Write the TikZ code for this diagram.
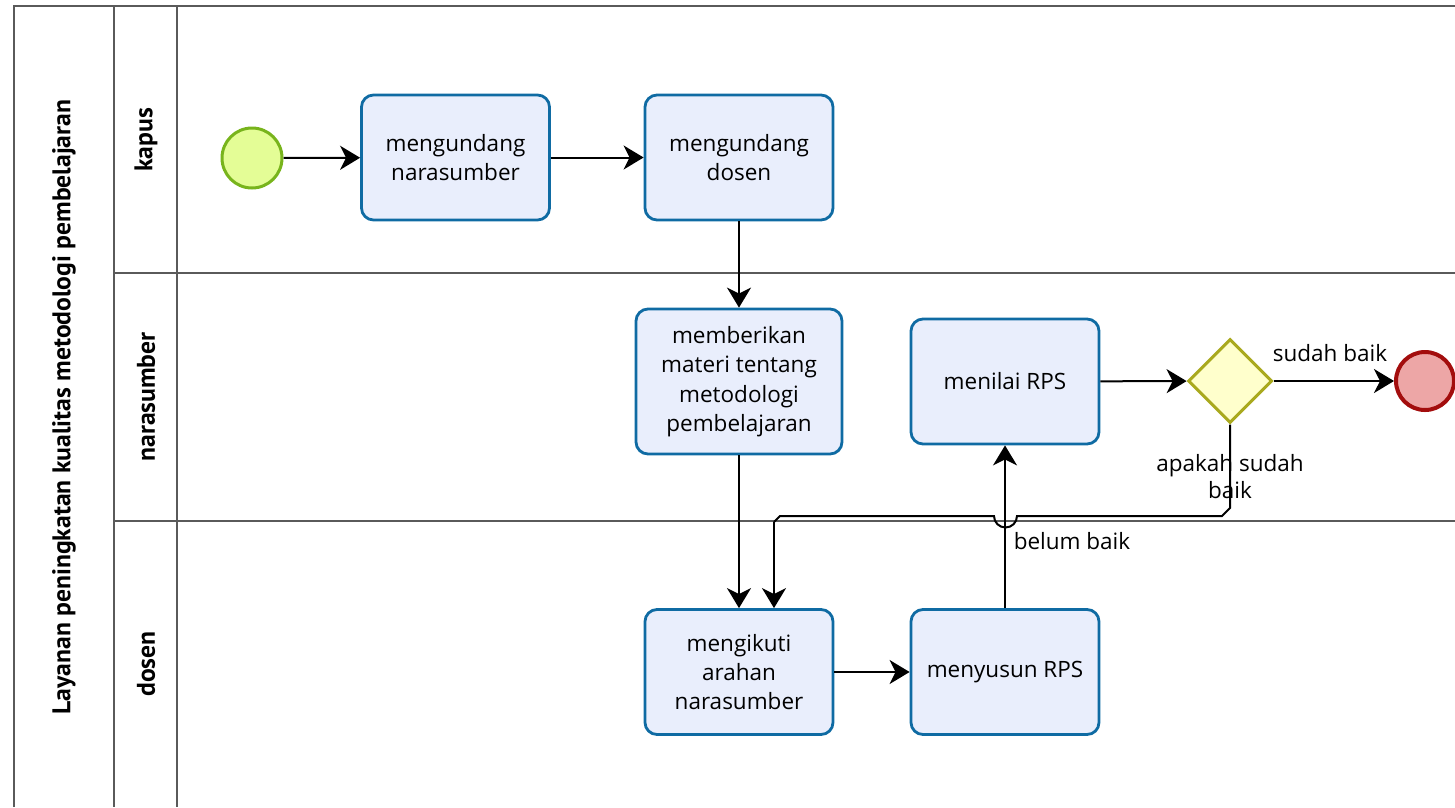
\documentclass[tikz,border=0pt]{standalone}
\usepackage{fontspec}
\setmainfont{Open Sans}
\newfontfamily\lanefont{PT Sans}
\usetikzlibrary{arrows.meta,shapes.geometric}
\definecolor{taskfill}{HTML}{E9EEFC}
\definecolor{taskdraw}{HTML}{0F6BA3}
\definecolor{startfill}{HTML}{E4FD96}
\definecolor{startdraw}{HTML}{78B41C}
\definecolor{gwfill}{HTML}{FFFFCC}
\definecolor{gwdraw}{HTML}{A9A91E}
\definecolor{endfill}{HTML}{EDA6A6}
\definecolor{enddraw}{HTML}{A30D0D}
\definecolor{poolline}{HTML}{5A5A5A}
\tikzset{
  x=1pt,y=-1pt,
  task/.style={draw=taskdraw,fill=taskfill,line width=2.8pt,rounded corners=12pt,
    minimum width=188pt,minimum height=125pt,align=center,inner sep=2pt,
    font=\fontsize{22.5}{29.3}\selectfont},
  startev/.style={circle,draw=startdraw,fill=startfill,line width=3pt,minimum size=60pt,inner sep=0pt},
  endev/.style={circle,draw=enddraw,fill=endfill,line width=4pt,minimum size=58pt,inner sep=0pt},
  gw/.style={diamond,draw=gwdraw,fill=gwfill,line width=3pt,minimum width=84pt,minimum height=84pt,inner sep=0pt},
  flow/.style={line width=2pt,-{Stealth[length=20pt,width=24pt,inset=6pt]}},
  flowplain/.style={line width=2pt},
  lbl/.style={font=\fontsize{22.5}{27}\selectfont,align=center,inner sep=0pt},
  lanelbl/.style={font=\lanefont\bfseries\fontsize{25.6}{28}\selectfont,rotate=90,inner sep=0pt},
  poolln/.style={draw=poolline,line width=1.6pt}
}
\begin{document}
\begin{tikzpicture}
\useasboundingbox (0,0) rectangle (1455,807);
% pool and lanes
\draw[poolln] (14,807) -- (14,6) -- (1455,6);
\draw[poolln] (114,6) -- (114,807);
\draw[poolln] (177,6) -- (177,807);
\draw[poolln] (114,273) -- (1455,273);
\draw[poolln] (114,521) -- (1455,521);
\node[lanelbl] (pool) at (64,407) {Layanan peningkatan kualitas metodologi pembelajaran};
\node[lanelbl] (l1) at (146,140) {kapus};
\node[lanelbl] (l2) at (146,397) {narasumber};
\node[lanelbl] (l3) at (146,664) {dosen};
% nodes
\node[startev] (s) at (252,158) {};
\node[task] (t1) at (455.5,157.5) {mengundang\\narasumber};
\node[task] (t2) at (739,157.5) {mengundang\\dosen};
\node[task,minimum width=206pt,minimum height=145pt] (t3) at (739,381.5) {memberikan\\materi tentang\\metodologi\\pembelajaran};
\node[task] (t4) at (1005,381.5) {menilai RPS};
\node[gw] (g) at (1230,381) {};
\node[endev] (e) at (1425,381) {};
\node[task] (t5) at (739,672) {mengikuti\\arahan\\narasumber};
\node[task] (t6) at (1005,672) {menyusun RPS};
% flows
\draw[flow] (s) -- (t1);
\draw[flow] (t1) -- (t2);
\draw[flow] (t2) -- (t3);
\draw[flow] (t3) -- (t5);
\draw[flow] (t5) -- (t6);
\draw[flow] (t6.north) -- (t4.south);
\draw[flow] (t4) -- (g);
\draw[flow] (g) -- (e);
\coordinate (c1) at (1230,508);
\coordinate (c2) at (1222,516);
\coordinate (h1) at (1017,516);
\coordinate (c3) at (780,516);
\coordinate (c4) at (774,522);
\draw[flowplain] (g.south) -- (c1) -- (c2) -- (h1) arc[start angle=0,end angle=180,radius=11.5] -- (c3) -- (c4);
\draw[flow] (c4) -- (t5.north -| c4);
% labels
\node[lbl] (lsb) at (1330,353) {sudah baik};
\node[lbl] (lap) at (1230,477) {apakah sudah\\baik};
\node[lbl] (lbb) at (1072,541) {belum baik};
\end{tikzpicture}
\end{document}
